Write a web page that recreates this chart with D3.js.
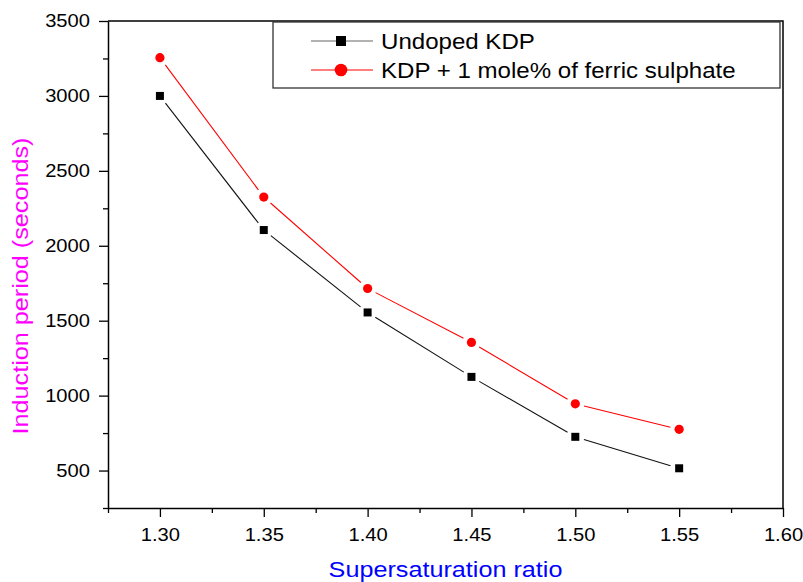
<!DOCTYPE html>
<html>
<head>
<meta charset="utf-8">
<script src="https://cdn.jsdelivr.net/npm/d3@7"></script>
<style>
  body { margin: 0; background: #fff; }
  svg text { font-family: "Liberation Sans", Arial, sans-serif; }
</style>
</head>
<body>
<div id="chart"></div>
<script>
// data
const ratios = [1.30, 1.35, 1.40, 1.45, 1.50, 1.55];
const undoped = [3000, 2105, 1555, 1125, 725, 515];
const doped = [3255, 2325, 1715, 1355, 945, 775];
const xTicks = [1.30, 1.35, 1.40, 1.45, 1.50, 1.55, 1.60];
const yTicks = [500, 1000, 1500, 2000, 2500, 3000, 3500];
const seriesNames = ["Undoped KDP", "KDP + 1 mole% of ferric sulphate"];

const W = 803, H = 582;
const margin = {top: 21, right: 20, bottom: 74, left: 108};
const sx = 1.12; // text in the reference is a little wide

const svg = d3.select("#chart").append("svg")
    .attr("width", W)
    .attr("height", H);

const x = d3.scaleLinear().domain([1.275, 1.60]).range([margin.left, W - margin.right]);
const y = d3.scaleLinear().domain([250, 3500]).range([H - margin.bottom, margin.top]);

// minor ticks
const xMinor = d3.range(0, 14).map(i => 1.275 + i * 0.025).filter(v => !xTicks.some(t => Math.abs(t - v) < 1e-6));
const yMinor = d3.range(0, 14).map(i => 250 + i * 250).filter(v => !yTicks.includes(v));

svg.append("g")
    .attr("transform", `translate(0,${y.range()[0]})`)
    .call(d3.axisBottom(x).tickValues(xMinor).tickSize(5).tickFormat(""))
    .call(g => g.select(".domain").remove())
    .selectAll("line").attr("stroke", "#000").attr("stroke-width", 1.3);

svg.append("g")
    .attr("transform", `translate(${x.range()[0]},0)`)
    .call(d3.axisLeft(y).tickValues(yMinor).tickSize(5).tickFormat(""))
    .call(g => g.select(".domain").remove())
    .selectAll("line").attr("stroke", "#000").attr("stroke-width", 1.3);

// x axis
const xAxis = svg.append("g")
    .attr("transform", `translate(0,${y.range()[0]})`)
    .call(d3.axisBottom(x).tickValues(xTicks).tickSize(9).tickSizeOuter(0).tickPadding(11).tickFormat(d3.format(".2f")));
xAxis.select(".domain").attr("stroke-width", 1.5);
xAxis.selectAll("line").attr("stroke-width", 1.3);
xAxis.selectAll("text")
    .attr("font-size", 18)
    .attr("fill", "#000")
    .attr("transform", `scale(${sx},1)`);

// y axis
const yAxis = svg.append("g")
    .attr("transform", `translate(${x.range()[0]},0)`)
    .call(d3.axisLeft(y).tickValues(yTicks).tickSize(9).tickSizeOuter(0).tickPadding(9).tickFormat(d3.format("d")));
yAxis.select(".domain").attr("stroke-width", 1.5);
yAxis.selectAll("line").attr("stroke-width", 1.3);
yAxis.selectAll("text")
    .attr("font-size", 18)
    .attr("fill", "#000")
    .attr("x", -18 / sx)
    .attr("transform", `scale(${sx},1)`);

// top and right frame
svg.append("path")
    .attr("d", `M${x.range()[0]},${y.range()[1]}H${x.range()[1]}V${y.range()[0]}`)
    .attr("fill", "none")
    .attr("stroke", "#000")
    .attr("stroke-width", 1.5);

// lines with a gap around each marker
const gap = 9;
function drawSeries(vals, color) {
    const pts = ratios.map((r, i) => [x(r), y(vals[i])]);
    const g = svg.append("g");
    for (let i = 0; i < pts.length - 1; i++) {
        const [x0, y0] = pts[i], [x1, y1] = pts[i + 1];
        const len = Math.hypot(x1 - x0, y1 - y0);
        const ux = (x1 - x0) / len, uy = (y1 - y0) / len;
        g.append("line")
            .attr("x1", x0 + ux * gap).attr("y1", y0 + uy * gap)
            .attr("x2", x1 - ux * gap).attr("y2", y1 - uy * gap)
            .attr("stroke", color)
            .attr("stroke-width", 1.1);
    }
    return {g, pts};
}

const s1 = drawSeries(undoped, "#111");
s1.g.selectAll("rect").data(s1.pts).enter().append("rect")
    .attr("x", d => d[0] - 4).attr("y", d => d[1] - 4)
    .attr("width", 8).attr("height", 8)
    .attr("fill", "#000");

const s2 = drawSeries(doped, "#ff0000");
s2.g.selectAll("circle").data(s2.pts).enter().append("circle")
    .attr("cx", d => d[0]).attr("cy", d => d[1])
    .attr("r", 4.6)
    .attr("fill", "#ff0000");

// legend
const legend = svg.append("g");
legend.append("rect")
    .attr("x", 273).attr("y", 22)
    .attr("width", 507).attr("height", 66)
    .attr("fill", "#fff")
    .attr("stroke", "#333")
    .attr("stroke-width", 1.3);

const rows = [
    {name: seriesNames[0], color: "#111", y: 41},
    {name: seriesNames[1], color: "#ff0000", y: 70}
];
rows.forEach((r, i) => {
    legend.append("line")
        .attr("x1", 311).attr("x2", 373)
        .attr("y1", r.y).attr("y2", r.y)
        .attr("stroke", i === 0 ? "#666" : "#ff0000")
        .attr("stroke-width", 1.1);
    if (i === 0) {
        legend.append("rect")
            .attr("x", 341 - 5).attr("y", r.y - 5)
            .attr("width", 10).attr("height", 10)
            .attr("fill", "#000");
    } else {
        legend.append("circle")
            .attr("cx", 341).attr("cy", r.y)
            .attr("r", 6.3)
            .attr("fill", "#ff0000");
    }
    legend.append("text")
        .attr("transform", `translate(381,${r.y + 8}) scale(${sx},1)`)
        .attr("font-size", 21.5)
        .attr("fill", "#000")
        .text(r.name);
});

// axis titles
svg.append("text")
    .attr("transform", `translate(${(x.range()[0] + x.range()[1]) / 2},577) scale(${sx},1)`)
    .attr("text-anchor", "middle")
    .attr("font-size", 22.5)
    .attr("fill", "#0000ff")
    .text("Supersaturation ratio");

svg.append("text")
    .attr("transform", `translate(28,286) rotate(-90) scale(${sx},1)`)
    .attr("text-anchor", "middle")
    .attr("font-size", 22.5)
    .attr("fill", "#ff00ff")
    .text("Induction period (seconds)");
</script>
</body>
</html>
